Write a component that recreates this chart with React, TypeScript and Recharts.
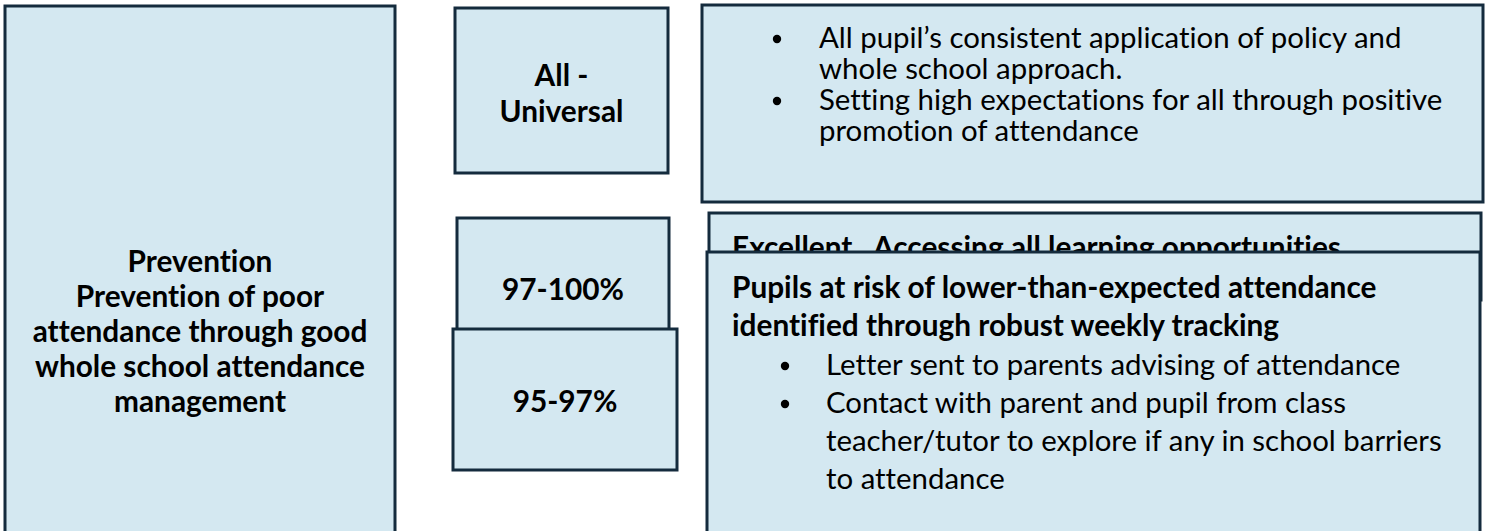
import React from 'react';
import { ComposedChart, XAxis, YAxis, ReferenceArea } from 'recharts';

// Panel extents on a 0..1491 x 0..531 canvas scale
const PANEL_IDS = ['prevention', 'universal', 'universalDetail', 'band97', 'excellent', 'band95', 'atRisk'];
const PANEL_X1 = [5, 455, 702, 457, 709, 453, 707];
const PANEL_X2 = [395, 668, 1483, 669, 1481, 677, 1480];
const PANEL_Y1 = [6, 8, 5, 218, 213, 329, 252];
const PANEL_Y2 = [580, 173, 202, 340, 300, 470, 580];

const PREVENTION_LINES = [
  'Prevention',
  'Prevention of poor',
  'attendance through good',
  'whole school attendance',
  'management',
];
const UNIVERSAL_LINES = ['All -', 'Universal'];
const BAND_97_LABEL = '97-100%';
const BAND_95_LABEL = '95-97%';
const UNIVERSAL_BULLETS = [
  ['All pupil\u2019s consistent application of policy and', 'whole school approach.'],
  ['Setting high expectations for all through positive', 'promotion of attendance'],
];
const EXCELLENT_HEADING = 'Excellent.  Accessing all learning opportunities';
const AT_RISK_HEADING = ['Pupils at risk of lower-than-expected attendance', 'identified through robust weekly tracking'];
const AT_RISK_BULLETS = [
  ['Letter sent to parents advising of attendance'],
  ['Contact with parent and pupil from class', 'teacher/tutor to explore if any in school barriers', 'to attendance'],
];

const FILL = '#D4E8F1';
const STROKE = '#142B3D';
const FONT = 'Lato, "Open Sans", sans-serif';

const Txt = ({ x, y, children, b, anchor }: any) => (
  <text
    x={x}
    y={y}
    textAnchor={anchor || 'start'}
    style={{
      fontFamily: FONT,
      fontSize: b ? 29.8 : 29.4,
      fontWeight: b ? 700 : 400,
      fill: '#000',
      fontVariantLigatures: 'none',
      whiteSpace: 'pre',
    }}
  >
    {children}
  </text>
);

// bulleted list: bullet x, text x, first baseline, line gap
const bulletList = (items: string[][], bx: number, tx: number, y0: number, gap: number) => {
  const out: React.ReactNode[] = [];
  let row = 0;
  items.forEach((lines, i) => {
    lines.forEach((l, j) => {
      const y = y0 + row * gap;
      if (j === 0) out.push(<circle key={`b${i}`} cx={bx} cy={y - 9} r={4.2} fill="#000" />);
      out.push(<Txt key={`t${i}-${j}`} x={tx} y={y}>{l}</Txt>);
      row++;
    });
  });
  return out;
};

const renderContent = (id: string, x: number, y: number, w: number) => {
  const cx = x + w / 2;
  switch (id) {
    case 'prevention':
      return PREVENTION_LINES.map((l, i) => (
        <Txt key={i} x={cx} y={y + 266 + i * 35} anchor="middle" b>{l}</Txt>
      ));
    case 'universal':
      return UNIVERSAL_LINES.map((l, i) => (
        <Txt key={i} x={cx} y={y + 78 + i * 36} anchor="middle" b>{l}</Txt>
      ));
    case 'universalDetail':
      return bulletList(UNIVERSAL_BULLETS, x + 75, x + 117, y + 43, 31);
    case 'band97':
      return <Txt x={cx} y={y + 82} anchor="middle" b>{BAND_97_LABEL}</Txt>;
    case 'band95':
      return <Txt x={cx} y={y + 83} anchor="middle" b>{BAND_95_LABEL}</Txt>;
    case 'excellent':
      return <Txt x={x + 23} y={y + 45} b>{EXCELLENT_HEADING}</Txt>;
    case 'atRisk':
      return [
        ...AT_RISK_HEADING.map((l, i) => (
          <Txt key={`h${i}`} x={x + 25} y={y + 46 + i * 38} b>{l}</Txt>
        )),
        ...bulletList(AT_RISK_BULLETS, x + 78, x + 119, y + 123, 38),
      ];
    default:
      return null;
  }
};

const Panel = (props: any) => {
  const { x, y, width, height, id } = props;
  return (
    <g>
      <rect x={x} y={y} width={width} height={height} fill={FILL} stroke={STROKE} strokeWidth={3} />
      {renderContent(id, x, y, width)}
    </g>
  );
};

const panelData = PANEL_IDS.map((id, i) => ({ id, x: PANEL_X1[i], y: PANEL_Y1[i] }));

export default function App() {
  return (
    <div style={{ position: 'absolute', left: 0, top: 0, width: 1491, height: 531, background: '#fff' }}>
      <ComposedChart width={1491} height={531} data={panelData} margin={{ top: 0, right: 0, bottom: 0, left: 0 }}>
        <XAxis type="number" dataKey="x" domain={[0, 1491]} hide height={0} allowDataOverflow />
        <YAxis type="number" dataKey="y" domain={[0, 531]} hide width={0} reversed allowDataOverflow />
        {PANEL_IDS.map((id, i) => (
          <ReferenceArea
            key={id}
            x1={PANEL_X1[i]}
            x2={PANEL_X2[i]}
            y1={PANEL_Y1[i]}
            y2={PANEL_Y2[i]}
            ifOverflow="visible"
            shape={(p: any) => <Panel {...p} id={id} />}
          />
        ))}
      </ComposedChart>
    </div>
  );
}
